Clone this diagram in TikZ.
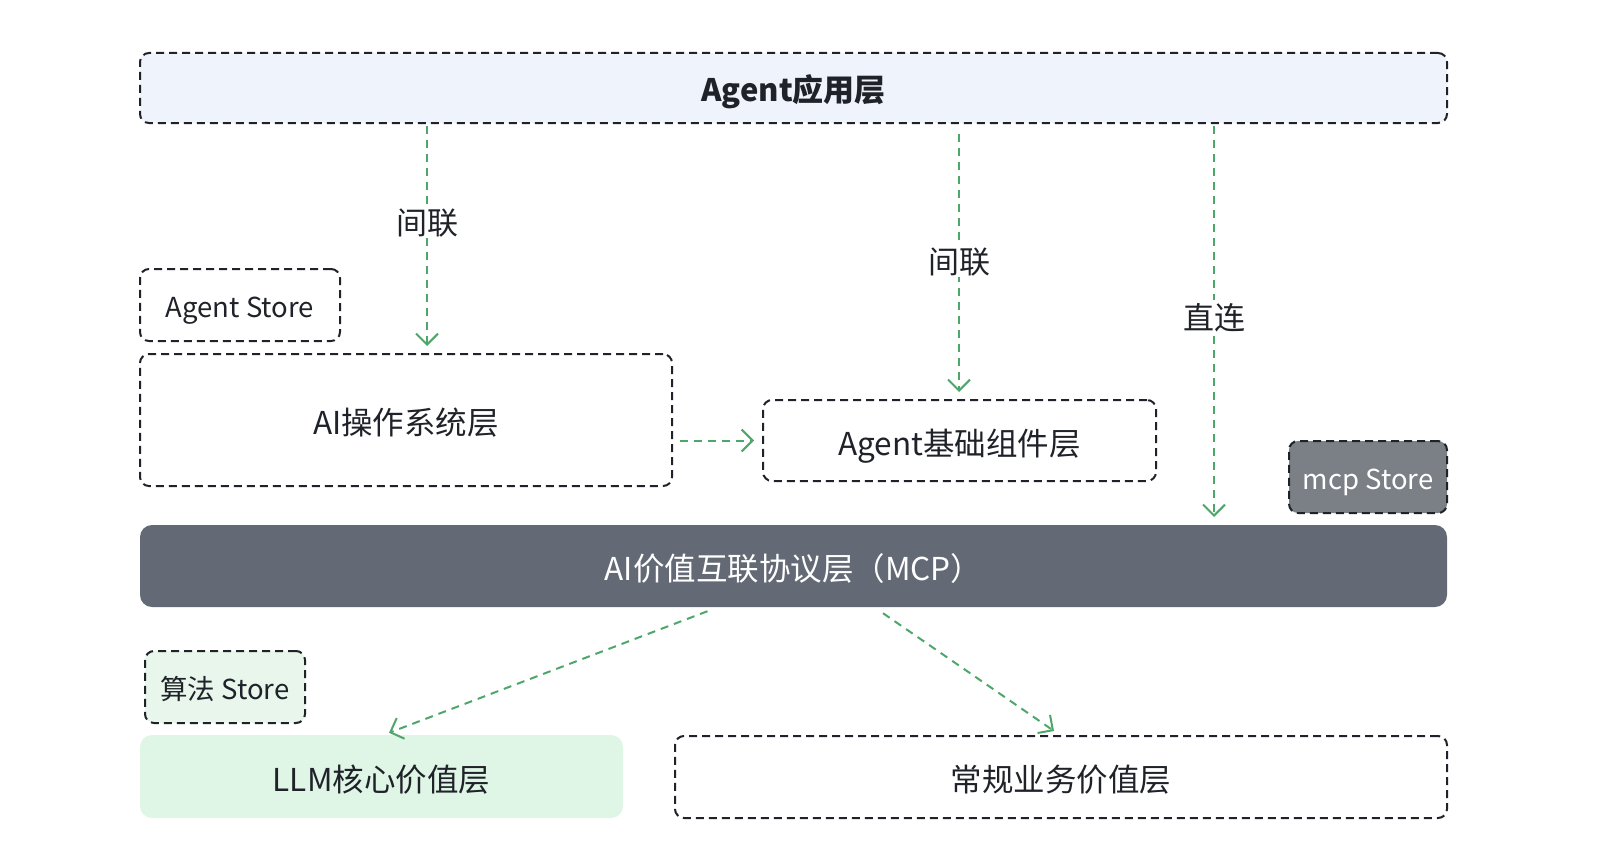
\documentclass[tikz,border=0pt]{standalone}
\usepackage{fontspec}
\setmainfont{Noto Sans CJK SC}
\usepackage{tikz}
\usetikzlibrary{arrows.meta}

\definecolor{inkdark}{HTML}{1F2329}
\definecolor{appfill}{HTML}{EEF3FC}
\definecolor{barfill}{HTML}{636A75}
\definecolor{storegray}{HTML}{7B7F86}
\definecolor{llmfill}{HTML}{DFF5E6}
\definecolor{algofill}{HTML}{E8F6EC}
\definecolor{flowgreen}{HTML}{4FA66A}

\begin{document}
\begin{tikzpicture}[
x=1pt, y=-1pt,
every node/.style={text=inkdark, inner sep=0pt, text depth=0pt},
layer/.style={draw=inkdark, line width=2pt, dash pattern=on 8pt off 5pt, rounded corners=9pt, font=\fontsize{31.5}{37}\selectfont, text height=29pt},
store/.style={layer, font=\fontsize{27.5}{32}\selectfont, text height=24pt},
solidbar/.style={rounded corners=12pt, font=\fontsize{31.5}{37}\selectfont, text height=29pt},
flow/.style={draw=flowgreen, line width=2pt, dash pattern=on 8pt off 6pt, -{Straight Barb[length=11pt, width=22pt, line width=2pt]}},
lbl/.style={fill=white, inner sep=4pt, font=\fontsize{31}{36}\selectfont, text height=25pt}
]

\useasboundingbox (0,0) rectangle (1605,867);

% top layer
\node[layer, fill=appfill, minimum width=1307pt, minimum height=70pt, font=\fontsize{31}{36}\selectfont\bfseries, text height=27pt] (app) at (793.5,88) {Agent应用层};

% middle
\node[store, minimum width=200pt, minimum height=72pt] (agentstore) at (240,305) {Agent Store};
\node[layer, minimum width=532pt, minimum height=132pt] (aios) at (406,420) {AI操作系统层};
\node[layer, minimum width=393pt, minimum height=81pt] (agentbase) at (959.5,440.5) {Agent基础组件层};
\node[store, fill=storegray, text=white, minimum width=158pt, minimum height=72pt] (mcpstore) at (1368,477) {mcp Store};

% protocol bar
\node[solidbar, fill=barfill, text=white, minimum width=1307pt, minimum height=82pt] (mcp) at (793.5,566) {AI价值互联协议层（MCP）};

% bottom
\node[store, fill=algofill, minimum width=160pt, minimum height=72pt] (algostore) at (225,687) {算法 Store};
\node[solidbar, fill=llmfill, minimum width=483pt, minimum height=83pt] (llm) at (381.5,776.5) {LLM核心价值层};
\node[layer, minimum width=772pt, minimum height=82pt] (biz) at (1061,777) {常规业务价值层};

\coordinate (tipa) at (427,346);
\coordinate (tipb) at (959,392);
\coordinate (tipc) at (1214,517);

\draw[flow, shorten <=2pt] (app.south -| tipa) -- node[lbl, pos=.44] {间联} (tipa);
\draw[flow, shorten <=10pt] (app.south -| tipb) -- node[lbl, pos=.51] {间联} (tipb);
\draw[flow, shorten <=2pt] (app.south -| tipc) -- node[lbl, pos=.49] {直连} (tipc);

\draw[flow, shorten <=7pt, shorten >=8pt] (aios.east |- agentbase.west) -- (agentbase.west);

\draw[flow] ([xshift=-86pt, yshift=-4pt]mcp.south) -- ([xshift=7.5pt, yshift=2pt]llm.north);
\draw[flow] ([xshift=89.5pt, yshift=-6pt]mcp.south) -- ([xshift=-7pt, yshift=4pt]biz.north);

\end{tikzpicture}
\end{document}
